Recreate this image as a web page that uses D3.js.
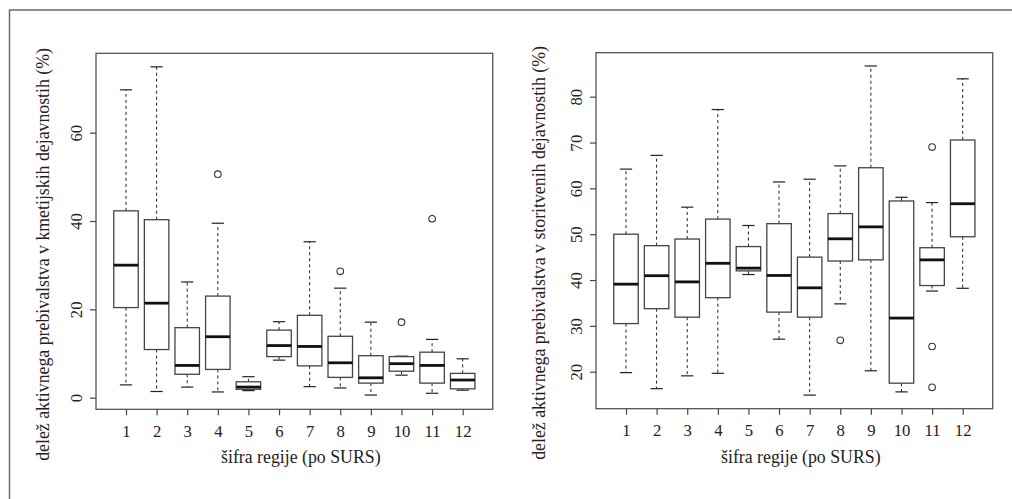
<!DOCTYPE html>
<html><head><meta charset="utf-8">
<script src="https://cdn.jsdelivr.net/npm/d3@7"></script>
</head>
<body style="margin:0;background:#fff">
<script>
// ---- data ----
const categories = [1,2,3,4,5,6,7,8,9,10,11,12];

// Panel 1: agriculture share (%)
const agrLow  = [2.9, 1.4, 2.4, 1.3, 1.6, 8.5, 2.5, 2.2, 0.6, 5.1, 1.0, 1.7];
const agrQ1   = [20.4, 10.9, 5.3, 6.4, 1.9, 9.3, 7.2, 4.6, 3.3, 6.0, 3.3, 2.0];
const agrMed  = [30.0, 21.4, 7.3, 13.8, 2.4, 11.8, 11.6, 7.9, 4.5, 7.7, 7.3, 4.0];
const agrQ3   = [42.3, 40.3, 15.85, 23.0, 3.6, 15.3, 18.65, 13.9, 9.5, 9.3, 10.3, 5.5];
const agrHigh = [69.7, 74.9, 26.2, 39.5, 4.75, 17.2, 35.3, 24.8, 17.1, 9.4, 13.2, 8.8];
const agrOutCat = [4, 8, 10, 11];
const agrOutVal = [50.6, 28.6, 17.1, 40.5];
const agrTicks = [0, 20, 40, 60];

// Panel 2: services share (%)
const srvLow  = [19.8, 16.3, 19.1, 19.65, 41.2, 27.1, 14.9, 34.8, 20.2, 15.6, 37.6, 38.2];
const srvQ1   = [30.5, 33.75, 31.9, 36.15, 42.0, 33.0, 31.9, 44.15, 44.4, 17.5, 38.8, 49.45];
const srvMed  = [39.1, 40.95, 39.6, 43.65, 42.6, 41.0, 38.3, 49.0, 51.6, 31.7, 44.4, 56.65];
const srvQ3   = [50.0, 47.5, 48.95, 53.3, 47.3, 52.3, 45.0, 54.5, 64.5, 57.25, 47.05, 70.55];
const srvHigh = [64.2, 67.2, 55.9, 77.2, 51.9, 61.4, 62.0, 64.9, 86.7, 58.05, 56.9, 83.9];
const srvOutCat = [8, 11, 11, 11];
const srvOutVal = [26.85, 69.0, 25.5, 16.6];
const srvTicks = [20, 30, 40, 50, 60, 70, 80];

const xTitle = "šifra regije (po SURS)";
const yTitleAgr = "delež aktivnega prebivalstva v kmetijskih dejavnostih (%)";
const yTitleSrv = "delež aktivnega prebivalstva v storitvenih dejavnostih (%)";

// ---- drawing ----
const FONT = '"Liberation Serif"';
const W = 1012, H = 499;
const svg = d3.select("body").append("svg").attr("width", W).attr("height", H)
  .style("display","block");

// outer frame (only top and left edges visible)
svg.append("path")
  .attr("d", `M9.5,${H} L9.5,10 L${W},10`)
  .attr("fill","none").attr("stroke","#6a6a6a").attr("stroke-width",1.5);

function panel(opt){
  const {x0, x1, y0, y1, yDomain, low, q1, med, q3, high, outCat, outVal, ticks, yTitle, yTitleX, yTickX, yTitleTop} = opt;
  const g = svg.append("g");
  const x = d3.scaleLinear().domain([0.02, 12.98]).range([x0, x1]);
  const y = d3.scaleLinear().domain(yDomain).range([y1, y0]);
  const bw = (x(1.8) - x(1.0)); // box width 0.8 units
  const cw = bw / 2;

  const stats = categories.map((c,i)=>({c, low:low[i], q1:q1[i], med:med[i], q3:q3[i], high:high[i]}));

  const bx = g.selectAll("g.box").data(stats).enter().append("g");
  bx.append("line").attr("x1",d=>x(d.c)).attr("x2",d=>x(d.c))
    .attr("y1",d=>y(d.q3)).attr("y2",d=>y(d.high))
    .attr("stroke","#222").attr("stroke-width",1).attr("stroke-dasharray","3,3");
  bx.append("line").attr("x1",d=>x(d.c)).attr("x2",d=>x(d.c))
    .attr("y1",d=>y(d.q1)).attr("y2",d=>y(d.low))
    .attr("stroke","#222").attr("stroke-width",1).attr("stroke-dasharray","3,3");
  bx.append("line").attr("x1",d=>x(d.c)-cw/2).attr("x2",d=>x(d.c)+cw/2)
    .attr("y1",d=>y(d.high)).attr("y2",d=>y(d.high))
    .attr("stroke","#222").attr("stroke-width",1.2);
  bx.append("line").attr("x1",d=>x(d.c)-cw/2).attr("x2",d=>x(d.c)+cw/2)
    .attr("y1",d=>y(d.low)).attr("y2",d=>y(d.low))
    .attr("stroke","#222").attr("stroke-width",1.2);
  bx.append("rect").attr("x",d=>x(d.c)-bw/2).attr("width",bw)
    .attr("y",d=>y(d.q3)).attr("height",d=>Math.max(0.5,y(d.q1)-y(d.q3)))
    .attr("fill","#fff").attr("stroke","#444").attr("stroke-width",1.3);
  bx.append("line").attr("x1",d=>x(d.c)-bw/2).attr("x2",d=>x(d.c)+bw/2)
    .attr("y1",d=>y(d.med)).attr("y2",d=>y(d.med))
    .attr("stroke","#111").attr("stroke-width",2.8);

  g.selectAll("circle.o").data(outCat.map((c,i)=>({c, v:outVal[i]}))).enter()
    .append("circle").attr("cx",d=>x(d.c)).attr("cy",d=>y(d.v)).attr("r",3.3)
    .attr("fill","none").attr("stroke","#333").attr("stroke-width",1.1);

  g.append("rect").attr("x",x0).attr("y",y0).attr("width",x1-x0).attr("height",y1-y0)
    .attr("fill","none").attr("stroke","#555").attr("stroke-width",1.3);

  const xa = g.append("g").attr("transform",`translate(0,${y1})`)
    .call(d3.axisBottom(x).tickValues(categories).tickSize(6).tickPadding(0).tickFormat(d3.format("d")));
  xa.attr("font-family",null).attr("font-size",null);
  xa.select(".domain").remove();
  xa.selectAll(".tick line").attr("stroke","#444").attr("stroke-width",1.2);
  xa.selectAll(".tick text").attr("y",27.5).attr("dy",null)
    .style("font-size","16.7px").style("font-family",FONT).attr("fill","#222");

  const ya = g.append("g").attr("transform",`translate(${x0},0)`)
    .call(d3.axisLeft(y).tickValues(ticks).tickSize(6).tickFormat(d3.format("d")));
  ya.attr("font-family",null).attr("font-size",null);
  ya.select(".domain").remove();
  ya.selectAll(".tick line").attr("stroke","#444").attr("stroke-width",1.2);
  ya.selectAll(".tick text").attr("x",null).attr("dy",null)
    .attr("transform",`translate(${yTickX - x0},0) rotate(-90)`)
    .attr("text-anchor","middle")
    .style("font-size","16.7px").style("font-family",FONT).attr("fill","#222");

  g.append("text").attr("x",(x0+x1)/2 + 6.5).attr("y",463)
    .attr("text-anchor","middle").style("font-size","17.8px").style("font-family",FONT)
    .attr("fill","#222").text(xTitle);
  g.append("text").attr("transform",`translate(${yTitleX},${yTitleTop}) rotate(-90)`)
    .attr("text-anchor","end").style("font-size","17.8px").style("font-family",FONT)
    .attr("fill","#222").text(yTitle);
}

panel({x0:96, x1:492.7, y0:53.3, y1:409.3, yDomain:[-2.63, 77.97],
  low:agrLow, q1:agrQ1, med:agrMed, q3:agrQ3, high:agrHigh, outCat:agrOutCat, outVal:agrOutVal,
  ticks:agrTicks, yTitle:yTitleAgr, yTitleX:49, yTickX:82, yTitleTop:48});

panel({x0:596, x1:992.7, y0:52.7, y1:408.7, yDomain:[11.93, 89.6],
  low:srvLow, q1:srvQ1, med:srvMed, q3:srvQ3, high:srvHigh, outCat:srvOutCat, outVal:srvOutVal,
  ticks:srvTicks, yTitle:yTitleSrv, yTitleX:545, yTickX:582, yTitleTop:46});
</script>
</body></html>
